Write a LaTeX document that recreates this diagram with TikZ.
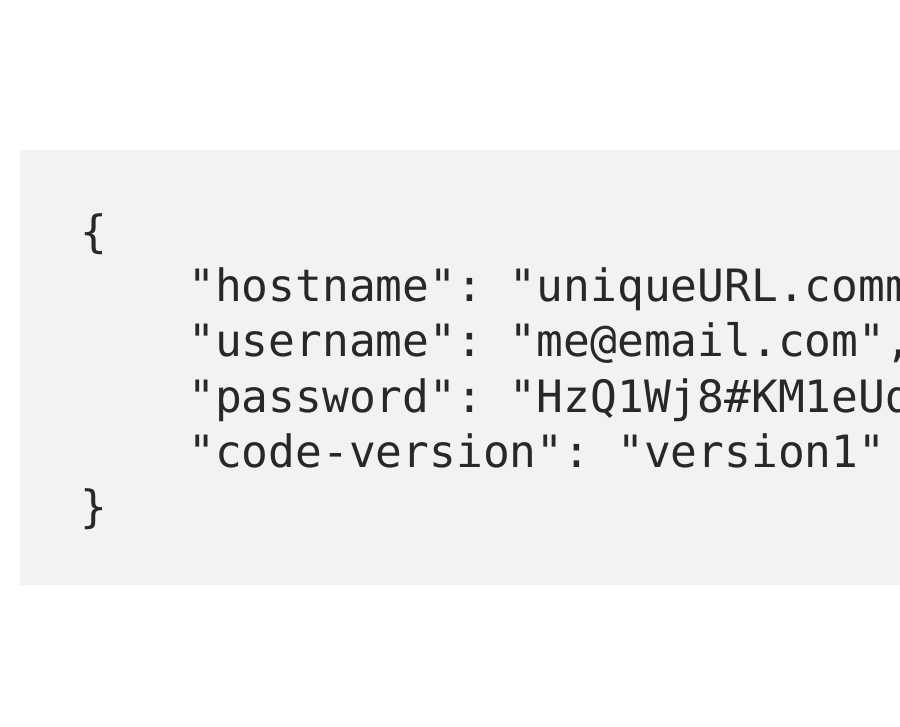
\documentclass[tikz,border=0pt]{standalone}
\usepackage{fontspec}
\setmonofont{DejaVu Sans Mono}
\definecolor{codebg}{RGB}{242,242,242}
\definecolor{codefg}{RGB}{40,40,40}
\begin{document}
\begin{tikzpicture}[x=0.75pt,y=0.75pt,yscale=-1,xscale=1,
  code/.style={anchor=base west,inner sep=0pt,text=codefg,
    font=\ttfamily\fontsize{33.4}{40}\selectfont}]
\useasboundingbox (0,0) rectangle (900,727);
\clip (0,0) rectangle (900,727);
%Shape: Rectangle [id:codeblock]
\fill [codebg] (20,150) rectangle (905,585);
% Text Node
\node [code] (open) at (80,248) {\{};
% Text Node
\node [code] (host) at (188,302) {"hostname": "uniqueURL.comm};
% Text Node
\node [code] (user) at (188,357) {"username": "me@email.com",};
% Text Node
\node [code] (pass) at (188,412) {"password": "HzQ1Wj8\#KM1eUd};
% Text Node
\node [code] (vers) at (188,467) {"code-version": "version1"};
% Text Node
\node [code] (close) at (80,522) {\}};
\end{tikzpicture}
\end{document}
